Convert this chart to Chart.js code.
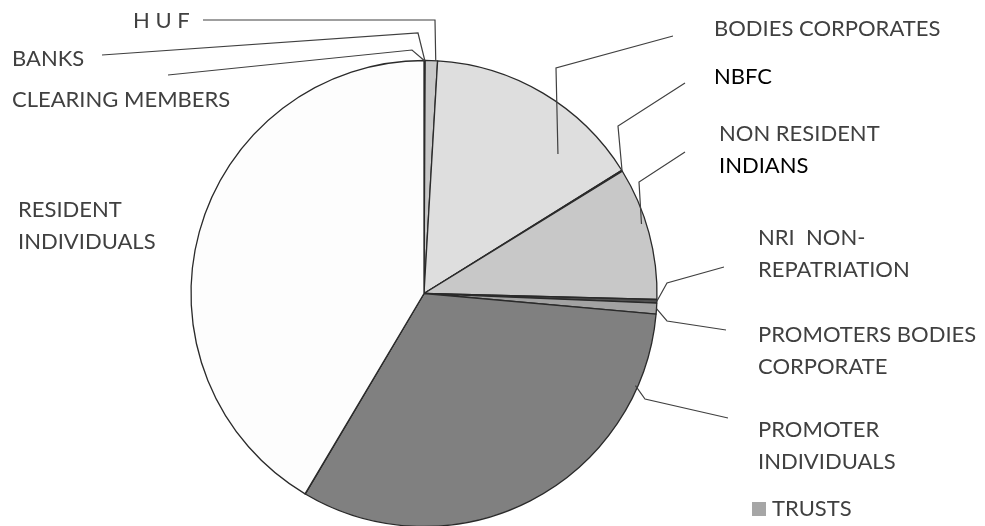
<!DOCTYPE html>
<html>
<head>
<meta charset="utf-8">
<script src="https://cdn.jsdelivr.net/npm/chart.js@4.4.0/dist/chart.umd.min.js"></script>
<style>
  html, body { margin: 0; padding: 0; background: #fff; }
  canvas { display: block; }
</style>
</head>
<body>
<canvas id="myChart" width="985" height="526"></canvas>
<script>
// shareholding categories, clockwise from 12 o'clock
const categories = ['CLEARING MEMBERS', 'BANKS', 'H U F', 'BODIES CORPORATES', 'NBFC',
  'NON RESIDENT INDIANS', 'NRI  NON-REPATRIATION', 'PROMOTERS BODIES CORPORATE',
  'PROMOTER INDIVIDUALS', 'TRUSTS', 'RESIDENT INDIVIDUALS'];
// percentage of shares held
const shares = [0.03, 0.05, 0.85, 15.2, 0.08, 9.2, 0.25, 0.75, 32.1, 0.02, 41.47];
const colors = ['#3a3a3a', '#3a3a3a', '#c8c8c8', '#dedede', '#505050',
  '#c8c8c8', '#505050', '#a2a2a2', '#808080', '#a6a6a6', '#fdfdfd'];

// label placement: text lines, left x, first line centre y, leader elbow + end,
// and where on the slice the leader touches (t = share of the slice angle, k = share of radius)
const labelLayout = [
  { i: 0, lines: ['CLEARING MEMBERS'], x: 12, y: 100, leader: [[168, 75], [412, 50]], t: 0.5, k: 1 },
  { i: 1, lines: ['BANKS'], x: 12, y: 59, leader: [[102, 55], [418, 33]], t: 0.5, k: 1 },
  { i: 2, lines: ['H U F'], x: 133, y: 21, leader: [[203, 20], [435, 20]], t: 0.85, k: 1 },
  { i: 3, lines: ['BODIES CORPORATES'], x: 714, y: 29, leader: [[673, 36], [556, 68]], t: 0.74, k: 0.83 },
  { i: 4, lines: ['NBFC'], x: 714, y: 77, leader: [[685, 83], [618, 126]], t: 0.5, k: 1, color: '#000' },
  { i: 5, lines: ['NON RESIDENT', 'INDIANS'], x: 719, y: 134, leader: [[685, 152], [639, 182]], t: 0.42, k: 0.98, color2: '#000' },
  { i: 6, lines: ['NRI  NON-', 'REPATRIATION'], x: 758, y: 238, leader: [[724, 267], [667, 283]], t: 0.5, k: 1 },
  { i: 7, lines: ['PROMOTERS BODIES', 'CORPORATE'], x: 758, y: 335, leader: [[726, 330], [667, 321]], t: 0.5, k: 1 },
  { i: 8, lines: ['PROMOTER', 'INDIVIDUALS'], x: 758, y: 430, leader: [[728, 418], [645, 399]], t: 0.16, k: 0.99 },
  { i: 10, lines: ['RESIDENT', 'INDIVIDUALS'], x: 18, y: 210 }
];
const legendItem = { i: 9, x: 752, y: 509 };

const FONT = '22px Lato, "Open Sans", sans-serif';
const LINE_GAP = 32;

const labelPlugin = {
  id: 'leaderLabels',
  afterDraw(chart) {
    const c = chart.ctx;
    const arcs = chart.getDatasetMeta(0).data;
    c.save();
    c.font = FONT;
    c.textBaseline = 'middle';
    c.textAlign = 'left';
    labelLayout.forEach(l => {
      if (l.leader) {
        const arc = arcs[l.i];
        const a = arc.startAngle + (arc.endAngle - arc.startAngle) * l.t;
        const r = arc.outerRadius * l.k;
        const px = arc.x + Math.cos(a) * r;
        const py = arc.y + Math.sin(a) * r;
        c.beginPath();
        c.strokeStyle = '#404040';
        c.lineWidth = 1.2;
        c.moveTo(l.leader[0][0], l.leader[0][1]);
        c.lineTo(l.leader[1][0], l.leader[1][1]);
        c.lineTo(px, py);
        c.stroke();
      }
      l.lines.forEach((txt, j) => {
        c.fillStyle = j === 0 ? (l.color || '#404040') : (l.color2 || '#404040');
        c.fillText(txt, l.x, l.y + j * LINE_GAP);
      });
    });
    // TRUSTS shown as a legend entry
    c.fillStyle = colors[legendItem.i];
    c.fillRect(legendItem.x, legendItem.y - 7, 14, 14);
    c.fillStyle = '#404040';
    c.fillText(categories[legendItem.i], legendItem.x + 20, legendItem.y);
    c.restore();
  }
};

const ctx = document.getElementById('myChart').getContext('2d');
const chart = new Chart(ctx, {
  type: 'pie',
  data: {
    labels: categories,
    datasets: [{
      data: shares,
      backgroundColor: colors,
      borderColor: '#2a2a2a',
      borderWidth: 1.3
    }]
  },
  options: {
    responsive: false,
    animation: false,
    radius: 233,
    layout: { padding: { left: 0, right: 137, top: 61, bottom: -3 } },
    plugins: {
      legend: { display: false },
      tooltip: { enabled: false }
    }
  },
  plugins: [labelPlugin]
});
</script>
</body>
</html>
